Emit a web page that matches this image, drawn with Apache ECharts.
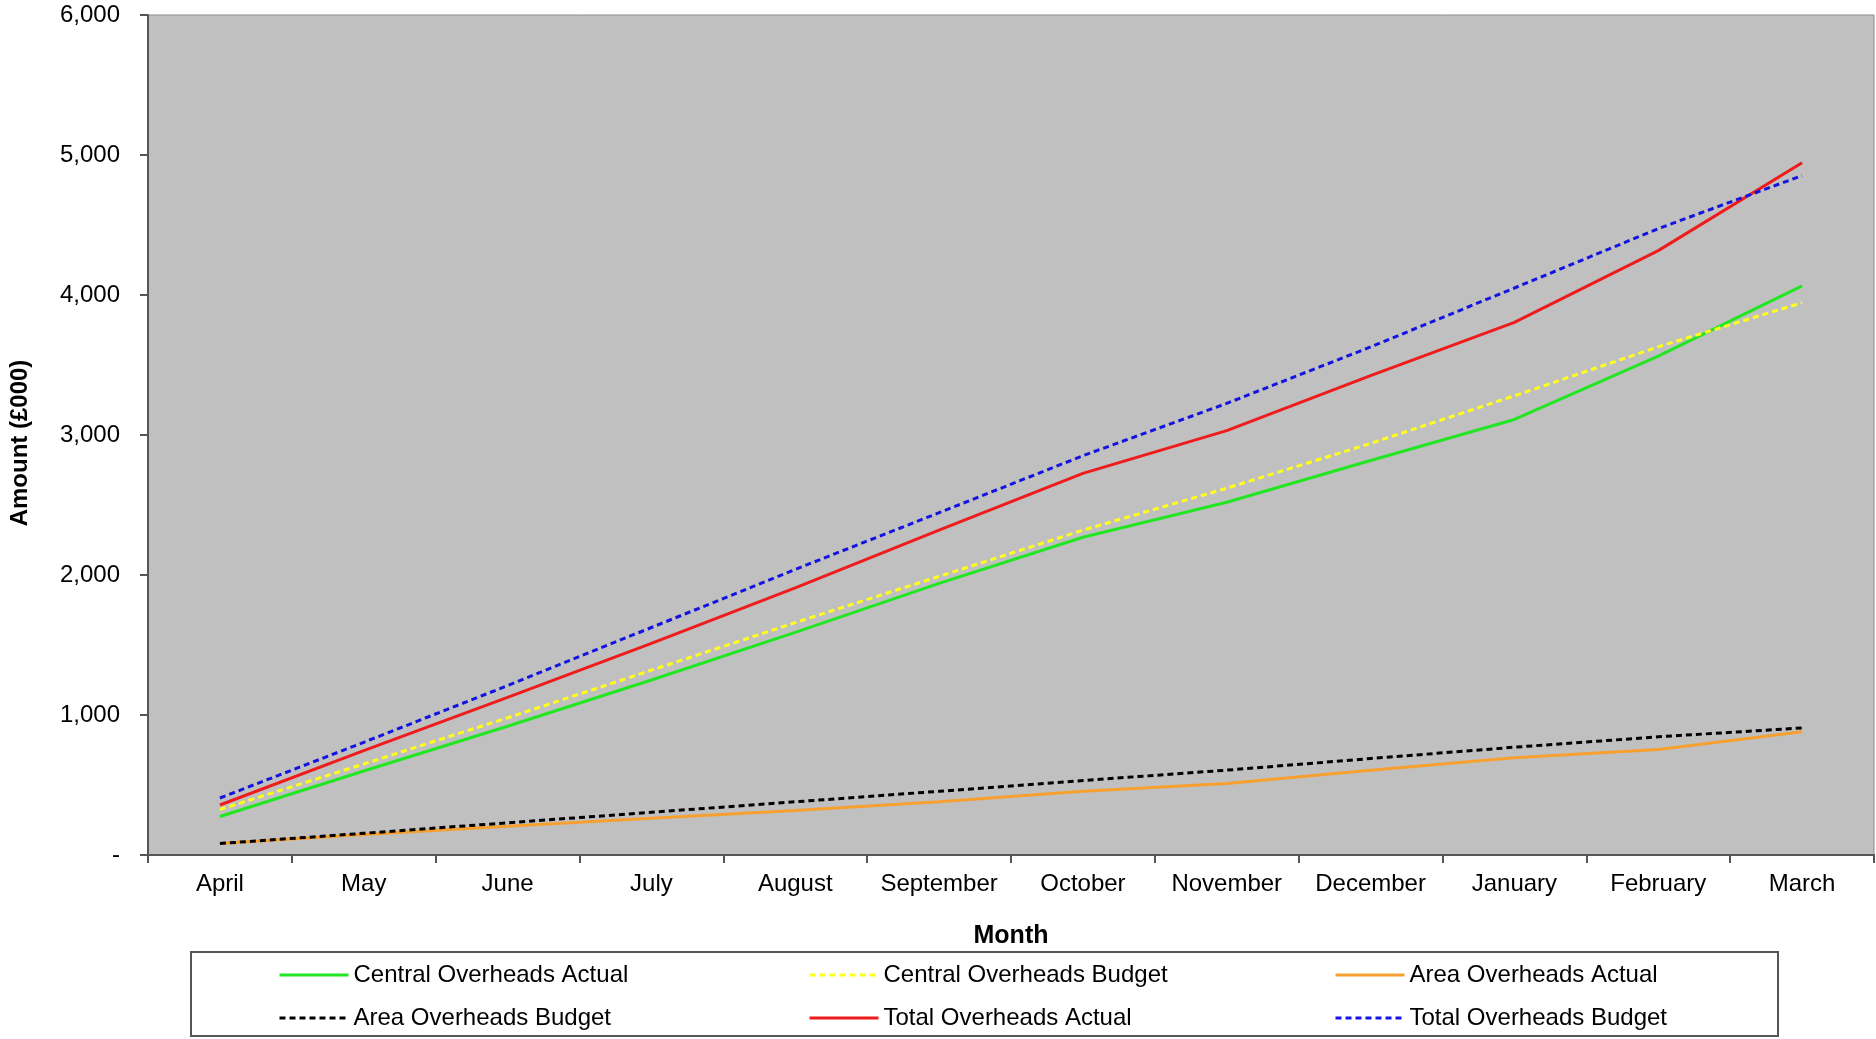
<!DOCTYPE html>
<html>
<head>
<meta charset="utf-8">
<title>Overheads: Actual vs Budget</title>
<script src="https://cdn.jsdelivr.net/npm/echarts@6/dist/echarts.min.js"></script>
<style>
  html, body { margin: 0; padding: 0; background: #ffffff; }
  #chart { width: 1876px; height: 1039px; }
</style>
</head>
<body>
<div id="chart"></div>
<script>
// Cumulative overheads by month, £000
const months = ['April', 'May', 'June', 'July', 'August', 'September',
                'October', 'November', 'December', 'January', 'February', 'March'];

const centralActual = [275, 600, 920, 1250, 1590, 1940, 2270, 2520, 2818, 3111, 3563, 4065];
const centralBudget = [325, 650, 980, 1320, 1660, 1990, 2320, 2620, 2940, 3280, 3630, 3945];
const areaActual    = [82, 146, 206, 262, 318, 380, 456, 511, 606, 694, 754, 880];
const areaBudget    = [82, 155, 230, 305, 380, 455, 532, 606, 689, 770, 844, 908];
const totalActual   = [357, 746, 1126, 1512, 1908, 2320, 2726, 3031, 3424, 3805, 4317, 4945];
const totalBudget   = [407, 805, 1210, 1625, 2040, 2445, 2852, 3226, 3629, 4050, 4474, 4853];

const yTicks = [0, 1000, 2000, 3000, 4000, 5000, 6000];

const FONT = 'Liberation Sans, Arial, sans-serif';
const TEXT_SIZE = 24;

function lineSeries(name, data, color, dashed) {
  return {
    name: name,
    type: 'line',
    data: data,
    symbol: 'none',
    smooth: false,
    z: 3,
    lineStyle: { color: color, width: 3, type: dashed ? [6, 4] : 'solid' },
    itemStyle: { color: color }
  };
}

const chart = echarts.init(document.getElementById('chart'), null, { renderer: 'canvas' });

const legendText = { fontFamily: FONT, fontSize: TEXT_SIZE, color: '#000', lineHeight: 24 };
function legendColumn(left, names) {
  return {
    orient: 'vertical',
    left: left,
    top: 963,
    itemWidth: 69,
    itemHeight: 14,
    itemGap: 19,
    padding: 0,
    selectedMode: false,
    textStyle: legendText,
    // line-only keys: hide the marker drawn in the middle of each key
    itemStyle: { color: 'rgba(0,0,0,0)', borderColor: 'rgba(0,0,0,0)', borderWidth: 0 },
    lineStyle: { width: 3 },
    data: names
  };
}

chart.setOption({
  animation: false,
  backgroundColor: '#ffffff',
  textStyle: { fontFamily: FONT },
  grid: {
    left: 144, right: 2, top: 15, bottom: 184,
    show: true,
    backgroundColor: '#c0c0c0',
    borderColor: '#8c8c8c',
    borderWidth: 1
  },
  xAxis: {
    type: 'category',
    data: months,
    boundaryGap: true,
    name: 'Month',
    nameLocation: 'middle',
    nameGap: 69,
    nameTextStyle: { fontFamily: FONT, fontSize: 25, fontWeight: 'bold', color: '#000' },
    axisLine: { show: true, lineStyle: { color: '#555', width: 2 } },
    axisTick: { show: true, alignWithLabel: false, length: 8, lineStyle: { color: '#555', width: 2 } },
    axisLabel: { fontFamily: FONT, fontSize: TEXT_SIZE, color: '#000', margin: 17, interval: 0 },
    splitLine: { show: false }
  },
  yAxis: {
    type: 'value',
    min: yTicks[0],
    max: yTicks[yTicks.length - 1],
    interval: 1000,
    name: 'Amount (£000)',
    nameLocation: 'middle',
    nameGap: 116,
    nameRotate: 90,
    nameTextStyle: {
      fontFamily: FONT, fontSize: 24, fontWeight: 'bold', color: '#000',
      padding: [0, 16, 0, 0]
    },
    axisLine: { show: true, lineStyle: { color: '#555', width: 2 } },
    axisTick: { show: true, length: 8, lineStyle: { color: '#555', width: 2 } },
    axisLabel: {
      fontFamily: FONT, fontSize: TEXT_SIZE, color: '#000', margin: 28,
      formatter: function (v) { return v === 0 ? '-' : v.toLocaleString('en-GB'); }
    },
    splitLine: { show: false }
  },
  legend: [
    legendColumn(278, ['Central Overheads Actual', 'Area Overheads Budget']),
    legendColumn(808, ['Central Overheads Budget', 'Total Overheads Actual']),
    legendColumn(1334, ['Area Overheads Actual', 'Total Overheads Budget'])
  ],
  graphic: [{
    type: 'rect',
    z: -1,
    shape: { x: 191, y: 952, width: 1587, height: 84 },
    style: { fill: '#ffffff', stroke: '#555', lineWidth: 2 }
  }],
  series: [
    lineSeries('Central Overheads Actual', centralActual, '#22e622', false),
    lineSeries('Central Overheads Budget', centralBudget, '#ffff1a', true),
    lineSeries('Area Overheads Actual', areaActual, '#f7a030', false),
    lineSeries('Area Overheads Budget', areaBudget, '#000000', true),
    lineSeries('Total Overheads Actual', totalActual, '#ee1c1c', false),
    lineSeries('Total Overheads Budget', totalBudget, '#1414e0', true)
  ]
});
</script>
</body>
</html>
